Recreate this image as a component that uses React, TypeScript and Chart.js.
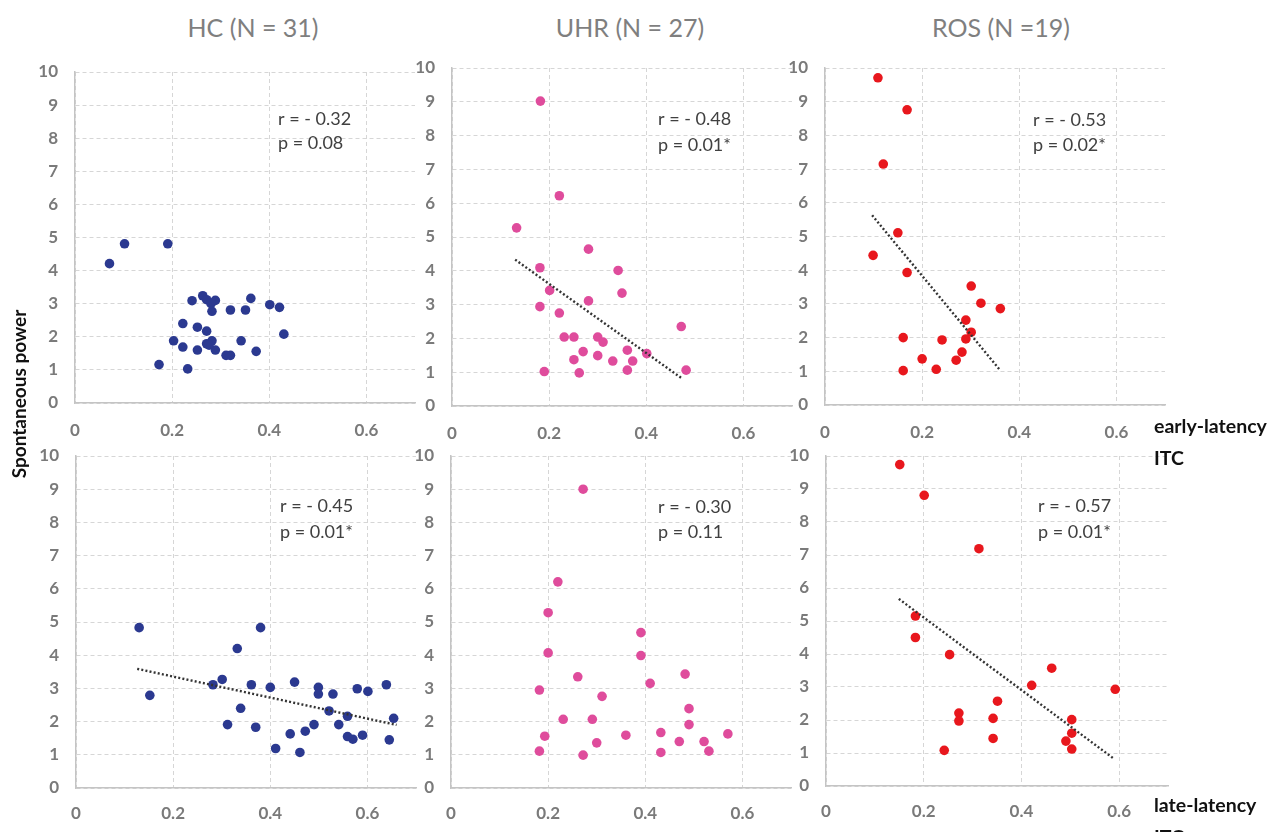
import React, { useEffect, useRef } from "react";
import { Chart, registerables } from "chart.js";
Chart.register(...registerables);

// ---------- data ----------
const groupTitles = ["HC (N = 31)", "UHR (N = 27)", "ROS (N =19)"];
const rowLabels = [["early-latency", "ITC"], ["late-latency", "ITC"]];
const yAxisTitle = "Spontaneous power";
const xTickLabels = ["0", "0.2", "0.4", "0.6"];

const hcEarlyX = [0.071, 0.102, 0.191, 0.241, 0.263, 0.271, 0.289, 0.282, 0.32, 0.351, 0.362, 0.401, 0.421, 0.43, 0.222, 0.252, 0.271, 0.203, 0.222, 0.252, 0.271, 0.282, 0.289, 0.311, 0.32, 0.342, 0.373, 0.173, 0.232, 0.28, 0.276];
const hcEarlyY = [4.21, 4.81, 4.81, 3.09, 3.24, 3.12, 3.1, 2.77, 2.81, 2.81, 3.16, 2.97, 2.89, 2.08, 2.4, 2.29, 2.17, 1.88, 1.69, 1.6, 1.79, 1.88, 1.6, 1.44, 1.44, 1.88, 1.56, 1.16, 1.03, 3.0, 1.75];

const uhrEarlyX = [0.182, 0.221, 0.133, 0.281, 0.181, 0.342, 0.201, 0.35, 0.181, 0.281, 0.221, 0.231, 0.251, 0.3, 0.311, 0.472, 0.27, 0.251, 0.3, 0.331, 0.361, 0.372, 0.401, 0.19, 0.262, 0.361, 0.482];
const uhrEarlyY = [9.02, 6.22, 5.27, 4.64, 4.09, 4.01, 3.42, 3.34, 2.94, 3.11, 2.75, 2.04, 2.04, 2.04, 1.89, 2.35, 1.61, 1.37, 1.49, 1.33, 1.65, 1.33, 1.55, 1.02, 0.98, 1.06, 1.06];
const uhrEarlyTrendX = [0.13, 0.473];
const uhrEarlyTrendY = [4.33, 0.82];

const rosEarlyX = [0.109, 0.169, 0.12, 0.15, 0.099, 0.169, 0.301, 0.321, 0.361, 0.29, 0.301, 0.29, 0.241, 0.161, 0.282, 0.2, 0.27, 0.229, 0.161];
const rosEarlyY = [9.71, 8.76, 7.15, 5.11, 4.44, 3.93, 3.53, 3.02, 2.86, 2.52, 2.16, 1.96, 1.93, 2.0, 1.57, 1.37, 1.33, 1.06, 1.02];
const rosEarlyTrendX = [0.097, 0.359];
const rosEarlyTrendY = [5.63, 1.06];

const hcLateX = [0.13, 0.38, 0.332, 0.152, 0.282, 0.301, 0.361, 0.4, 0.45, 0.499, 0.499, 0.529, 0.579, 0.601, 0.639, 0.339, 0.521, 0.559, 0.312, 0.37, 0.49, 0.541, 0.472, 0.441, 0.559, 0.57, 0.59, 0.411, 0.461, 0.654, 0.645];
const hcLateY = [4.83, 4.83, 4.2, 2.79, 3.11, 3.27, 3.11, 3.03, 3.19, 3.03, 2.83, 2.83, 2.99, 2.91, 3.11, 2.4, 2.32, 2.16, 1.91, 1.83, 1.91, 1.91, 1.71, 1.63, 1.55, 1.47, 1.59, 1.19, 1.07, 2.1, 1.45];
const hcLateTrendX = [0.126, 0.66];
const hcLateTrendY = [3.59, 1.9];

const uhrLateX = [0.272, 0.22, 0.2, 0.2, 0.391, 0.391, 0.261, 0.482, 0.41, 0.182, 0.311, 0.49, 0.231, 0.291, 0.49, 0.193, 0.36, 0.432, 0.57, 0.3, 0.47, 0.521, 0.182, 0.272, 0.432, 0.531];
const uhrLateY = [9.0, 6.21, 5.28, 4.07, 4.68, 3.99, 3.35, 3.43, 3.15, 2.95, 2.76, 2.39, 2.07, 2.07, 1.91, 1.56, 1.59, 1.67, 1.63, 1.36, 1.4, 1.4, 1.11, 0.99, 1.07, 1.11];

const rosLateX = [0.151, 0.201, 0.313, 0.183, 0.183, 0.253, 0.462, 0.421, 0.592, 0.351, 0.272, 0.272, 0.342, 0.503, 0.503, 0.491, 0.342, 0.503, 0.242];
const rosLateY = [9.74, 8.81, 7.19, 5.15, 4.5, 3.98, 3.57, 3.05, 2.93, 2.57, 2.21, 1.97, 2.05, 2.01, 1.6, 1.36, 1.44, 1.12, 1.08];
const rosLateTrendX = [0.149, 0.589];
const rosLateTrendY = [5.67, 0.83];

const rValues = ["r = - 0.32", "r = - 0.48", "r = - 0.53", "r = - 0.45", "r = - 0.30", "r = - 0.57"];
const pValues = ["p = 0.08", "p = 0.01*", "p = 0.02*", "p = 0.01*", "p = 0.11", "p = 0.01*"];

// ---------- styling / layout ----------
const HC_COLOR = "#2b3990";
const UHR_COLOR = "#df4c9c";
const ROS_COLOR = "#e8171d";
const FONT = "Lato, 'Open Sans', sans-serif";
const Y_AXIS_W = 45;
const PAD_TOP = 14;
const PAD_RIGHT = 14;
const X_AXIS_H = 40;

const zip = (xs: number[], ys: number[]) => xs.map((x, i) => ({ x, y: ys[i] }));

type PanelCfg = {
  xs: number[]; ys: number[]; tx?: number[]; ty?: number[]; color: string;
  box: { left: number; top: number; bottom: number; width: number };
  ann: { dx: number; dy1: number; dy2: number };
  idx: number; tickPad: number;
};

const panels: PanelCfg[] = [
  { xs: hcEarlyX, ys: hcEarlyY, color: HC_COLOR, box: { left: 75, top: 72, bottom: 403, width: 340 }, ann: { dx: 203, dy1: 47, dy2: 71 }, idx: 0, tickPad: 17 },
  { xs: uhrEarlyX, ys: uhrEarlyY, tx: uhrEarlyTrendX, ty: uhrEarlyTrendY, color: UHR_COLOR, box: { left: 452, top: 68, bottom: 406, width: 340 }, ann: { dx: 206, dy1: 51, dy2: 77 }, idx: 1, tickPad: 17 },
  { xs: rosEarlyX, ys: rosEarlyY, tx: rosEarlyTrendX, ty: rosEarlyTrendY, color: ROS_COLOR, box: { left: 825, top: 68, bottom: 405, width: 340 }, ann: { dx: 208, dy1: 52, dy2: 77 }, idx: 2, tickPad: 17 },
  { xs: hcLateX, ys: hcLateY, tx: hcLateTrendX, ty: hcLateTrendY, color: HC_COLOR, box: { left: 76, top: 456, bottom: 788, width: 340 }, ann: { dx: 204, dy1: 50, dy2: 76 }, idx: 3, tickPad: 15 },
  { xs: uhrLateX, ys: uhrLateY, color: UHR_COLOR, box: { left: 451, top: 456, bottom: 788, width: 340 }, ann: { dx: 207, dy1: 51, dy2: 76 }, idx: 4, tickPad: 15 },
  { xs: rosLateX, ys: rosLateY, tx: rosLateTrendX, ty: rosLateTrendY, color: ROS_COLOR, box: { left: 826, top: 456, bottom: 786, width: 342 }, ann: { dx: 212, dy1: 50, dy2: 76 }, idx: 5, tickPad: 15 },
];

const corrPlugin = {
  id: "corrText",
  afterDraw(chart: any, _args: any, opts: any) {
    const { ctx, chartArea } = chart;
    ctx.save();
    ctx.font = `18px ${FONT}`;
    ctx.fillStyle = "#404040";
    ctx.textAlign = "left";
    ctx.textBaseline = "middle";
    ctx.fillText(opts.r, chartArea.left + opts.dx, chartArea.top + opts.dy1);
    ctx.fillText(opts.p, chartArea.left + opts.dx, chartArea.top + opts.dy2);
    ctx.restore();
  },
};

function Panel({ cfg }: { cfg: PanelCfg }) {
  const ref = useRef<HTMLCanvasElement | null>(null);
  const { box } = cfg;
  const cw = Y_AXIS_W + box.width + PAD_RIGHT;
  const ch = PAD_TOP + (box.bottom - box.top) + X_AXIS_H;

  useEffect(() => {
    if (!ref.current) return;
    const datasets: any[] = [];
    if (cfg.tx && cfg.ty) {
      datasets.push({
        type: "line",
        data: zip(cfg.tx, cfg.ty),
        borderColor: "#333333",
        borderWidth: 2.4,
        borderDash: [2, 2.2],
        pointRadius: 0,
        fill: false,
        showLine: true,
      });
    }
    datasets.push({
      type: "scatter",
      data: zip(cfg.xs, cfg.ys),
      backgroundColor: cfg.color,
      borderWidth: 0,
      pointRadius: 4.8,
      pointHoverRadius: 4.8,
    });
    const tickFont = { family: FONT, size: 17, weight: "bold" as const };
    const chart = new Chart(ref.current, {
      type: "scatter",
      data: { datasets },
      plugins: [corrPlugin],
      options: {
        animation: false,
        responsive: false,
        devicePixelRatio: 1,
        events: [],
        layout: { padding: { top: PAD_TOP, right: PAD_RIGHT, left: 0, bottom: 0 } },
        plugins: {
          legend: { display: false },
          tooltip: { enabled: false },
          corrText: { r: rValues[cfg.idx], p: pValues[cfg.idx], ...cfg.ann },
        } as any,
        scales: {
          x: {
            type: "linear",
            min: 0,
            max: 0.7,
            afterFit: (s: any) => { s.height = X_AXIS_H; s.paddingLeft = 0; s.paddingRight = 0; },
            ticks: {
              stepSize: 0.2,
              includeBounds: false,
              padding: cfg.tickPad,
              color: "#7a7a7a",
              font: tickFont,
              callback: (v: any) => xTickLabels[Math.round(Number(v) / 0.2)] ?? "",
            },
            grid: { color: "#d6d6d6", lineWidth: 1, drawTicks: false },
            border: { display: true, color: "#c4c4c4", width: 1.5, dash: [4, 3] },
          },
          y: {
            type: "linear",
            min: 0,
            max: 10,
            afterFit: (s: any) => { s.width = Y_AXIS_W; s.paddingTop = 0; s.paddingBottom = 0; },
            ticks: {
              stepSize: 1,
              padding: 17,
              color: "#7a7a7a",
              font: tickFont,
            },
            grid: { color: "#d6d6d6", lineWidth: 1, drawTicks: false },
            border: { display: true, color: "#c4c4c4", width: 1.5, dash: [4, 3] },
          },
        },
      } as any,
    });
    return () => chart.destroy();
  }, [cfg]);

  return (
    <canvas
      ref={ref}
      width={cw}
      height={ch}
      style={{ position: "absolute", left: box.left - Y_AXIS_W, top: box.top - PAD_TOP, width: cw, height: ch }}
    />
  );
}

const titleCenters = [253, 630, 1001];

export default function App() {
  return (
    <div style={{ position: "absolute", left: 0, top: 0, width: 1282, height: 832, background: "#ffffff", overflow: "hidden", fontFamily: FONT }}>
      {groupTitles.map((t, i) => (
        <div
          key={t}
          style={{ position: "absolute", left: titleCenters[i] - 150, width: 300, top: 7, textAlign: "center", fontSize: 25, color: "#7f7f7f", lineHeight: "40px" }}
        >
          {t}
        </div>
      ))}
      {panels.map((p) => (
        <Panel key={p.idx} cfg={p} />
      ))}
      <div
        style={{ position: "absolute", left: 19 - 150, top: 394 - 15, width: 300, height: 30, lineHeight: "30px", textAlign: "center", transform: "rotate(-90deg)", whiteSpace: "nowrap", fontWeight: "bold", fontSize: 19, color: "#111111" }}
      >
        {yAxisTitle}
      </div>
      {rowLabels.map((lines, i) => (
        <div
          key={i}
          style={{ position: "absolute", left: 1154, top: i === 0 ? 410 : 789, fontWeight: "bold", fontSize: 19.5, lineHeight: "32px", color: "#111111", whiteSpace: "nowrap" }}
        >
          {lines.map((l) => (
            <div key={l}>{l}</div>
          ))}
        </div>
      ))}
    </div>
  );
}
